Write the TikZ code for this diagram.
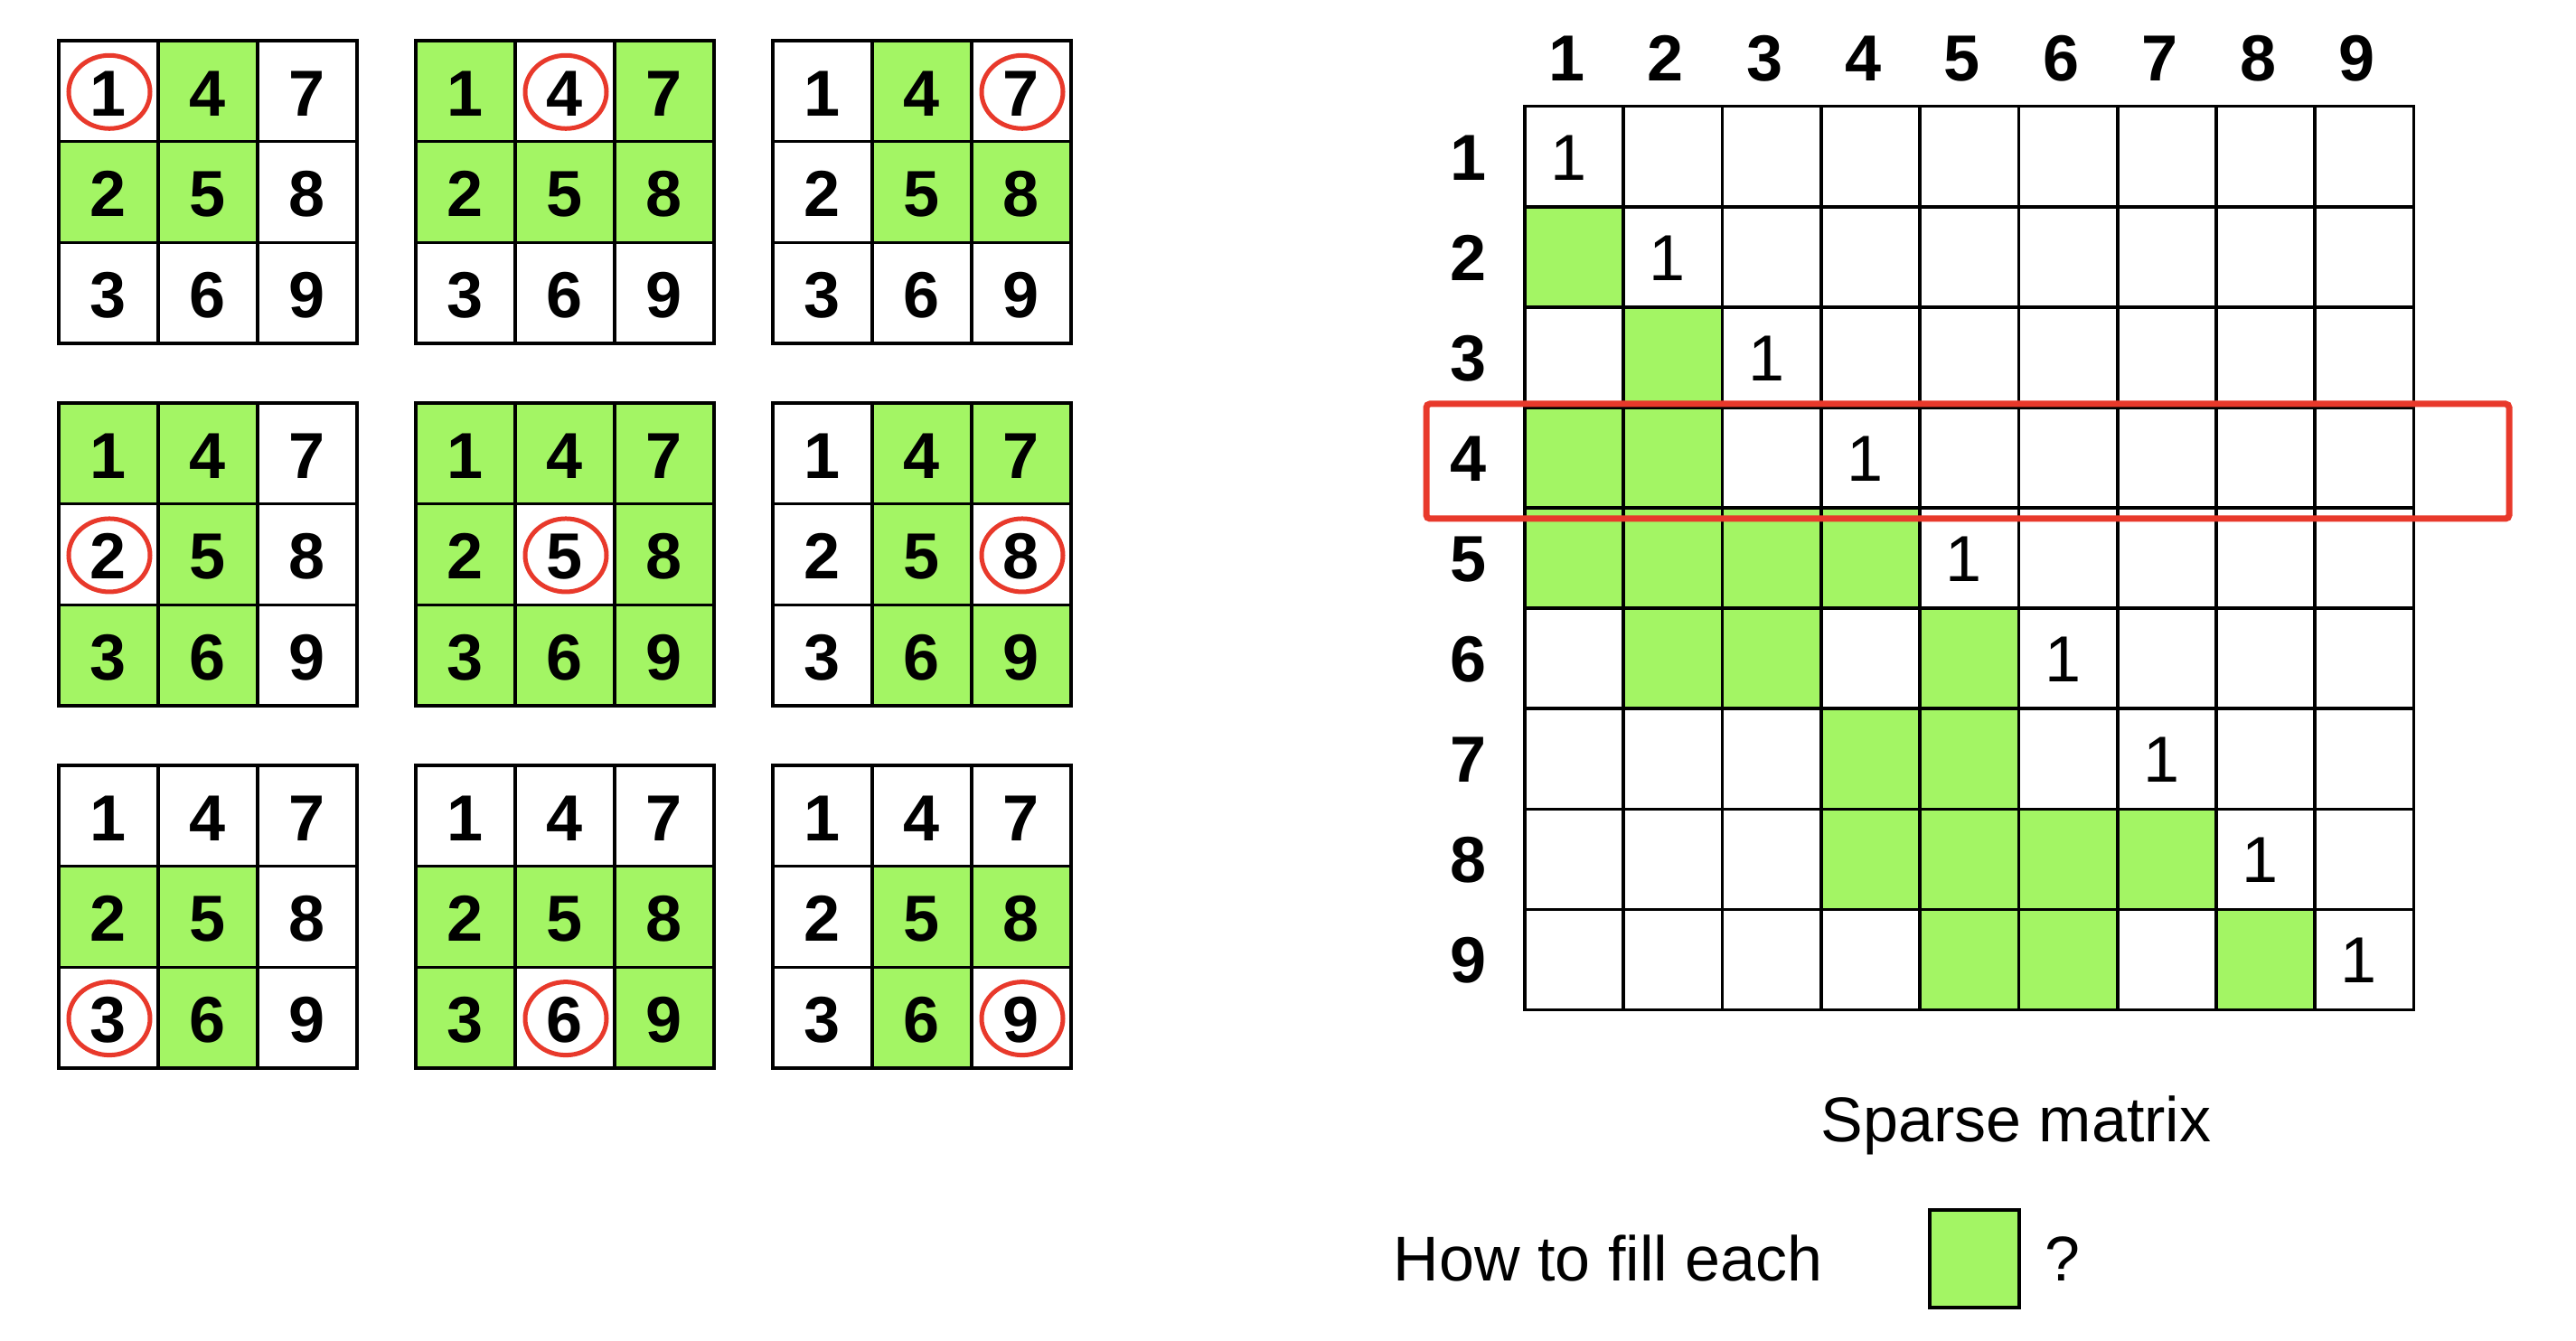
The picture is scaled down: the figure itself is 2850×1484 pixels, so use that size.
\documentclass[tikz,border=0pt]{standalone}
\usepackage{fontspec}
\setmainfont{Liberation Sans}
\definecolor{gfill}{HTML}{A3F564}
\definecolor{rcol}{HTML}{E8392B}
\begin{document}
\begin{tikzpicture}[x=0.25pt,y=-0.25pt,
  gridline/.style={draw=black,line width=0.9pt},
  dig/.style={font=\fontsize{18pt}{20pt}\selectfont\bfseries,anchor=base,inner sep=0pt},
  ent/.style={font=\fontsize{18pt}{20pt}\selectfont,anchor=base,inner sep=0pt},
  lbl/.style={font=\fontsize{17.5pt}{20pt}\selectfont,anchor=base west,inner sep=0pt},
  ring/.style={draw=rcol,line width=1.25pt}]
\useasboundingbox (0,0) rectangle (2850,1484);
% ---------- nine small 3x3 grids ----------
\foreach \gr in {0,1,2}{
  \foreach \gc in {0,1,2}{
    \pgfmathsetmacro\xo{65+395*\gc}
    \pgfmathsetmacro\yo{45+401*\gr}
    \foreach \r in {0,1,2}{
      \foreach \c in {0,1,2}{
        \pgfmathtruncatemacro\d{max(abs(\r-\gr),abs(\c-\gc))}
        \pgfmathtruncatemacro\n{3*\c+\r+1}
        \ifnum\d=1 \fill[gfill] (\xo+110*\c,\yo+111.67*\r) rectangle ++(110,111.67);\fi
        \node[dig] (g\gr\gc n\n) at (\xo+110*\c+55,\yo+111.67*\r+55.8+27.5) {\n};
      }
    }
    \draw[gridline] (\xo,\yo) rectangle ++(330,335);
    \foreach \k in {1,2}{
      \draw[gridline] (\xo+110*\k,\yo) -- ++(0,335);
      \draw[gridline] (\xo,\yo+111.67*\k) -- ++(330,0);
    }
    \draw[ring] (\xo+110*\gc+56,\yo+111.67*\gr+56.8) ellipse [x radius=45, y radius=40.5];
  }
}
% ---------- sparse matrix ----------
\foreach \r/\c in {2/1,3/2,4/1,4/2,5/1,5/2,5/3,5/4,6/2,6/3,6/5,7/4,7/5,8/4,8/5,8/6,8/7,9/5,9/6,9/8}
  \fill[gfill] (1687+109.28*\c-109.28,117.7+111.09*\r-111.09) rectangle ++(109.28,111.09);
\foreach \k in {1,...,8}{
  \draw[gridline] (1687+109.28*\k,117.7) -- ++(0,999.8);
  \draw[gridline] (1687,117.7+111.09*\k) -- ++(983.5,0);
}
\draw[gridline] (1687,117.7) rectangle (2670.5,1117.5);
\foreach \i in {1,...,9}{
  \node[ent] (m\i) at (1687+109.28*\i-54.64-6,117.7+111.09*\i-55.55+26) {1};
  \node[dig] (c\i) at (1687+109.28*\i-54.64-8,89.3) {\i};
  \node[dig] (r\i) at (1625,117.7+111.09*\i-55.55+26) {\i};
}
\draw[rcol,line width=1.75pt,rounded corners=1pt] (1578,447) rectangle (2776,574);
% ---------- captions ----------
\node[lbl] (sp) at (2014,1263.3) {Sparse matrix};
\node[lbl] (how) at (1541,1418) {How to fill each};
\node[draw=black,fill=gfill,line width=0.85pt,inner sep=0pt,
      minimum width=24.75pt,minimum height=27pt] (box) at (2184.5,1393) {};
\node[lbl] (q) at (2262,1418) {?};
\end{tikzpicture}
\end{document}
